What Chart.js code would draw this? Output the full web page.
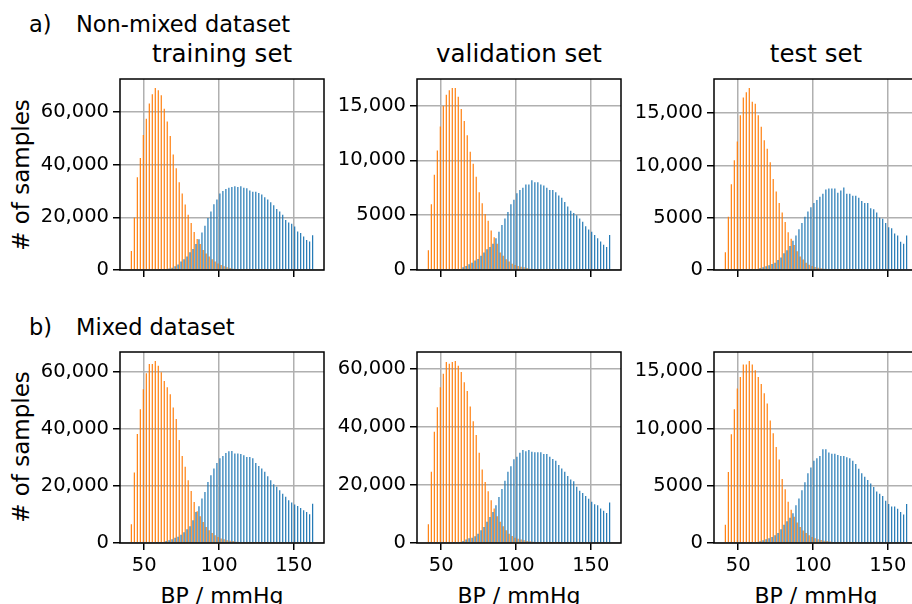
<!DOCTYPE html>
<html><head><meta charset="utf-8">
<script src="https://cdn.jsdelivr.net/npm/chart.js@4.4.1/dist/chart.umd.min.js"></script>
<style>
html,body{margin:0;padding:0;background:#fff;width:912px;height:604px;overflow:hidden;position:relative;}
canvas{position:absolute;}
svg{position:absolute;left:0;top:0;}
text{font-family:'DejaVu Sans';fill:#000;}
</style></head><body>
<svg width="912" height="604">
  <text x="29" y="32" font-size="22.5">a)</text>
  <text x="76" y="32" font-size="22.5">Non-mixed dataset</text>
  <text x="29" y="335" font-size="22.5">b)</text>
  <text x="76" y="335" font-size="22.5">Mixed dataset</text>
  <text x="222" y="62" font-size="24.5" text-anchor="middle">training set</text>
  <text x="519" y="62" font-size="24.5" text-anchor="middle">validation set</text>
  <text x="816" y="62" font-size="24.5" text-anchor="middle">test set</text>
  <text x="29" y="175" font-size="23" text-anchor="middle" transform="rotate(-90 29 175)"># of samples</text>
  <text x="29" y="447" font-size="23" text-anchor="middle" transform="rotate(-90 29 447)"># of samples</text>
  <text x="222" y="603" font-size="22" text-anchor="middle">BP / mmHg</text>
  <text x="519" y="603" font-size="22" text-anchor="middle">BP / mmHg</text>
  <text x="816" y="603" font-size="22" text-anchor="middle">BP / mmHg</text>
</svg>
<script>
// ---- data ----
const binCenters = [41,43,45,47,49,51,53,55,57,59,61,63,65,67,69,71,73,75,77,79,81,83,85,87,89,91,93,95,97,99,101,103,105,107,109,111,113,115,117,119,121,123,125,127,129,131,133,135,137,139,141,143,145,147,149,151,153,155,157,159,161,163];
const binRange = [40, 164];
const xTicks = [50, 100, 150];
const yTicksLarge = [0, 20000, 40000, 60000];
const yLabelsLarge = ['0', '20,000', '40,000', '60,000'];
const yTicksSmall = [0, 5000, 10000, 15000];
const yLabelsSmall = ['0', '5000', '10,000', '15,000'];

// a) Non-mixed dataset
const nonMixedTrainDia = [7200,19900,35200,42500,51200,57400,63200,66700,69000,68200,66300,61200,56300,50800,43800,38600,33300,29000,24800,21000,17800,14400,11800,9900,7600,6300,5100,4100,3200,2500,1900,1400,1000,760,500,380,250,150,100,60,40,30,20,15,10,5,0,0,0,0,0,0,0,0,0,0,0,0,0,0,0,0];
const nonMixedTrainSys = [0,0,0,0,0,0,0,0,0,0,100,200,350,550,900,1400,2100,3200,4100,5100,6700,8000,9900,11700,14200,16800,19700,22200,24900,26700,29000,30000,30700,31200,31500,31800,31500,31800,31200,31000,30200,29700,29700,29200,28600,27600,26700,25700,24600,23100,22200,21000,19000,18000,17500,16500,14600,14000,12700,11400,10800,13200];
const nonMixedValDia = [1800,6000,8700,10900,13100,15000,16000,16400,16600,16600,15800,14700,13600,12300,10800,9700,8500,7100,6100,5100,4500,3600,3000,2400,1600,1300,980,770,580,460,370,300,240,180,120,90,60,40,25,15,10,8,5,3,2,0,0,0,0,0,0,0,0,0,0,0,0,0,0,0,0,0];
const nonMixedValSys = [0,0,0,0,0,0,0,0,0,10,30,90,240,370,520,670,860,1000,1300,1600,1900,2100,2400,2900,3500,4100,4700,5300,6000,6400,7000,7300,7500,7800,7800,8200,8000,8000,7800,7700,7500,7300,7300,7100,6800,6600,6200,5800,5400,5200,5000,4700,4400,4000,3700,3500,3200,2900,2600,2300,2100,3200];
const nonMixedTestDia = [1700,5100,8200,10500,12300,14800,16500,17000,17400,16100,15900,14800,13700,12400,11600,10300,8700,7500,6400,5500,4600,3600,3000,2400,1800,1300,1000,700,510,390,290,220,160,130,100,70,50,35,20,12,8,5,3,2,0,0,0,0,0,0,0,0,0,0,0,0,0,0,0,0,0,0];
const nonMixedTestSys = [0,0,0,0,0,0,0,0,0,20,50,100,190,260,350,450,580,700,960,1200,1600,1900,2300,2800,3300,3900,4500,5100,5600,6000,6400,6700,7000,7300,7700,7800,7800,7800,7400,7600,7900,7300,7300,7100,7100,6900,6600,6400,6400,5900,5800,5500,5000,4900,4500,4100,4000,3500,3300,2700,2500,3300];
// b) Mixed dataset
const mixedTrainDia = [6600,24700,38200,46900,53900,59500,62800,62800,63800,62200,59900,56800,54600,52200,47500,43500,36100,30500,26700,22000,18200,14400,11100,9400,7400,5600,4500,3500,2700,2100,1600,1300,1000,800,700,470,350,250,150,100,60,40,25,15,10,5,0,0,0,0,0,0,0,0,0,0,0,0,0,0,0,0];
const mixedTrainSys = [0,0,0,0,0,0,0,0,0,100,200,350,700,940,1300,1800,2200,2900,3800,4800,5900,8000,10900,12900,15600,17900,21400,23800,26100,28100,29700,30500,31600,32200,32300,31400,31400,31200,30800,30200,30200,29700,28100,27000,26100,25000,23400,22000,20600,19700,18500,17300,16200,15000,14200,13500,13000,12300,11500,10900,10100,13800];
const mixedValDia = [6500,24600,38400,46900,53800,58400,62500,61900,62500,62800,61200,59000,55500,52500,47100,42000,37300,31200,25400,21100,17900,14800,11900,9200,7300,5800,4400,3200,2400,1800,1500,1200,920,690,580,460,300,200,120,80,50,30,20,10,5,0,0,0,0,0,0,0,0,0,0,0,0,0,0,0,0,0];
const mixedValSys = [0,0,0,0,0,0,0,0,0,100,200,350,700,1200,1600,1800,2300,3200,4400,5500,7300,9000,10700,13000,15900,18600,21500,24600,26500,28900,29800,31200,32100,31700,32100,31500,31300,31300,31300,30700,30700,29800,29000,28400,26900,25700,24600,23100,21900,21300,19400,18000,17300,16200,15300,14200,13400,13000,11900,11100,10400,14000];
const mixedTestDia = [1600,6200,9500,11700,13500,14500,15600,15600,15900,15600,15100,14500,13900,13100,12200,10700,9600,8400,7300,5600,4700,3600,2900,2300,1800,1400,1100,880,670,530,410,320,260,200,175,130,90,60,40,25,15,10,5,3,0,0,0,0,0,0,0,0,0,0,0,0,0,0,0,0,0,0];
const mixedTestSys = [0,0,0,0,0,0,0,0,0,30,60,90,150,230,320,410,530,670,880,1200,1600,1900,2200,2600,3300,3900,4600,5300,6100,6600,7200,7400,7600,8200,8200,7900,7800,7800,7700,7600,7600,7500,7400,7200,6900,6500,6100,5800,5500,5200,4900,4500,4300,4100,3700,3400,3200,3200,3000,2700,2500,3400];

// ---- layout / style ----
const BLUE = '#1f77b4';
const ORANGE = '#ff7f0e';
const FONT = {family: "'DejaVu Sans', sans-serif", size: 19.5};
const Y_W = 120, PLOT_W = 204, PLOT_H = 191, PAD_T = 25, PAD_R = 10, X_H = 60;

const panels = [
  {dia: nonMixedTrainDia, sys: nonMixedTrainSys, yTicks: yTicksLarge, yLabels: yLabelsLarge, left: 120, top: 79, showX: false},
  {dia: nonMixedValDia,   sys: nonMixedValSys,   yTicks: yTicksSmall, yLabels: yLabelsSmall, left: 417, top: 79, showX: false},
  {dia: nonMixedTestDia,  sys: nonMixedTestSys,  yTicks: yTicksSmall, yLabels: yLabelsSmall, left: 714, top: 79, showX: false},
  {dia: mixedTrainDia,    sys: mixedTrainSys,    yTicks: yTicksLarge, yLabels: yLabelsLarge, left: 120, top: 352, showX: true},
  {dia: mixedValDia,      sys: mixedValSys,      yTicks: yTicksLarge, yLabels: yLabelsLarge, left: 417, top: 352, showX: true},
  {dia: mixedTestDia,     sys: mixedTestSys,     yTicks: yTicksSmall, yLabels: yLabelsSmall, left: 714, top: 352, showX: true},
];

const framePlugin = {
  id: 'frame',
  afterDraw(chart) {
    const a = chart.chartArea, ctx = chart.ctx;
    ctx.save();
    ctx.strokeStyle = '#000';
    ctx.lineWidth = 1.5;
    ctx.strokeRect(a.left, a.top, a.right - a.left, a.bottom - a.top);
    ctx.restore();
  }
};

const span = binRange[1] - binRange[0];
const xMin = binRange[0] - 0.05 * span, xMax = binRange[1] + 0.05 * span;

panels.forEach(p => {
  const c = document.createElement('canvas');
  c.width = Y_W + PLOT_W + PAD_R;
  c.height = PAD_T + PLOT_H + X_H;
  c.style.left = (p.left - Y_W) + 'px';
  c.style.top = (p.top - PAD_T) + 'px';
  document.body.appendChild(c);
  const ymax = Math.max(...p.dia, ...p.sys) * 1.05;
  const common = {barPercentage: 1.0, categoryPercentage: 0.8, borderWidth: 0};
  new Chart(c, {
    type: 'bar',
    data: {
      datasets: [
        Object.assign({label: 'SBP', data: binCenters.map((x, i) => ({x, y: p.sys[i]})), backgroundColor: BLUE}, common),
        Object.assign({label: 'DBP', data: binCenters.map((x, i) => ({x, y: p.dia[i]})), backgroundColor: ORANGE}, common),
      ]
    },
    options: {
      responsive: false, animation: false, devicePixelRatio: 1,
      font: FONT,
      layout: {padding: {left: 0, top: PAD_T, right: PAD_R, bottom: 0}},
      plugins: {legend: {display: false}, tooltip: {enabled: false}, title: {display: false}},
      scales: {
        x: {
          type: 'linear', min: xMin, max: xMax, z: 1, offset: false,
          afterBuildTicks: s => { s.ticks = xTicks.map(v => ({value: v})); },
          afterFit: s => { s.height = X_H; },
          grid: {offset: false, color: '#b0b0b0', lineWidth: 1.5, tickColor: '#000', tickLength: 7, tickWidth: 1.5, drawTicks: true},
          border: {display: false},
          ticks: {display: p.showX, font: FONT, color: '#000', padding: 4, maxRotation: 0, autoSkip: false}
        },
        y: {
          type: 'linear', min: 0, max: ymax, z: 1,
          afterBuildTicks: s => { s.ticks = p.yTicks.map(v => ({value: v})); },
          afterFit: s => { s.width = Y_W; },
          grid: {color: '#b0b0b0', lineWidth: 1.5, tickColor: '#000', tickLength: 7, tickWidth: 1.5, drawTicks: true},
          border: {display: false},
          ticks: {font: FONT, color: '#000', padding: 4, autoSkip: false,
                  callback: v => p.yLabels[p.yTicks.indexOf(v)]}
        }
      }
    },
    plugins: [framePlugin]
  });
});
</script>
</body></html>
